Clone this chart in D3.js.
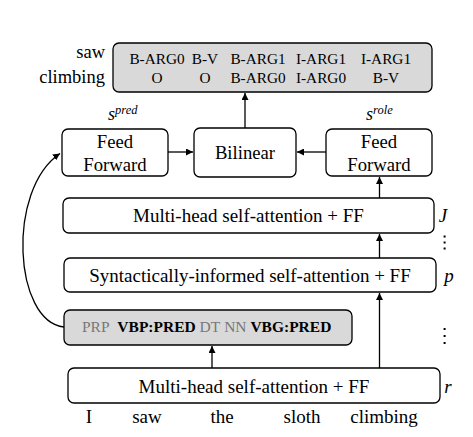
<!DOCTYPE html>
<html><head><meta charset="utf-8">
<script src="https://cdn.jsdelivr.net/npm/d3@7"></script>
<style>body{margin:0;background:#fff}svg{display:block}</style>
</head><body>
<script>
// ---- data ----
const words = ["I", "saw", "the", "sloth", "climbing"];
const predicates = ["saw", "climbing"];
const tagsSaw = ["B-ARG0", "B-V", "B-ARG1", "I-ARG1", "I-ARG1"];
const tagsClimbing = ["O", "O", "B-ARG0", "I-ARG0", "B-V"];
const posTags = ["PRP", "VBP:PRED", "DT", "NN", "VBG:PRED"];
const posIsPred = [false, true, false, false, true];
const layerNames = ["Multi-head self-attention + FF", "Syntactically-informed self-attention + FF", "Multi-head self-attention + FF"];
const layerIndex = ["J", "p", "r"];
const scoreNames = ["pred", "role"];

// ---- layout ----
const W = 473, H = 437;
const svg = d3.select("body").append("svg").attr("width", W).attr("height", H);
const serif = "'Liberation Serif','Times New Roman',serif";
svg.append("defs").append("marker").attr("id", "ah")
  .attr("viewBox", "0 0 10 10").attr("refX", 10).attr("refY", 5)
  .attr("markerWidth", 7).attr("markerHeight", 7).attr("markerUnits", "userSpaceOnUse")
  .attr("orient", "auto")
  .append("path").attr("d", "M0,0 L10,5 L0,10 z").attr("fill", "#000");

function box(x, y, w, h, fill) {
  svg.append("rect").attr("x", x).attr("y", y).attr("width", w).attr("height", h)
    .attr("rx", 6).attr("ry", 6).attr("fill", fill || "#fff")
    .attr("stroke", "#000").attr("stroke-width", 1.3);
}
function txt(s, x, y, size, opts) {
  opts = opts || {};
  return svg.append("text").attr("x", x).attr("y", y).text(s)
    .attr("font-family", serif).attr("font-size", size)
    .attr("text-anchor", opts.anchor || "middle")
    .attr("font-style", opts.italic ? "italic" : null)
    .attr("font-weight", opts.bold ? "bold" : null)
    .attr("fill", opts.fill || "#000");
}
function arrow(x1, y1, x2, y2) {
  svg.append("line").attr("x1", x1).attr("y1", y1).attr("x2", x2).attr("y2", y2)
    .attr("stroke", "#000").attr("stroke-width", 1.3).attr("marker-end", "url(#ah)");
}

// Output tag box
box(113, 43, 319, 49, "#d9d9d9");
const tagCols = [157, 205, 258, 321, 386];
const xTag = d3.scaleOrdinal().domain(d3.range(5)).range(tagCols);
const rowY = d3.scaleOrdinal().domain(predicates).range([64, 83]);
const labelY = d3.scaleOrdinal().domain(predicates).range([58, 83]);
predicates.forEach(p => txt(p, 105, labelY(p), 18.5, {anchor: "end"}));
[tagsSaw, tagsClimbing].forEach((row, r) => {
  row.forEach((t, i) => txt(t, xTag(i), rowY(predicates[r]), 15.3));
});

// Feed forward / bilinear boxes
box(62, 129, 106, 47);
box(194, 128, 102, 49);
box(326, 129, 106, 47);
[115, 379].forEach(cx => {
  txt("Feed", cx, 148, 18.7);
  txt("Forward", cx, 171, 18.7);
});
txt("Bilinear", 245, 159, 18.7);

// score labels
const scoreX = d3.scaleOrdinal().domain(scoreNames).range([108, 366]);
scoreNames.forEach(n => {
  const t = txt("", scoreX(n), 120, 18, {anchor: "start", italic: true});
  t.append("tspan").text("s");
  t.append("tspan").attr("dy", -6).attr("font-size", 12.5).text(n);
});

// layers
const layers = [
  {x: 63, y: 198, w: 371, h: 35, ty: 222},
  {x: 64, y: 258, w: 372, h: 34, ty: 282},
  {x: 68, y: 368, w: 372, h: 35, ty: 393}
];
layers.forEach((L, i) => {
  box(L.x, L.y, L.w, L.h);
  txt(layerNames[i], L.x + L.w / 2, L.ty, 19);
});
const idxX = [443, 449, 448];
layerIndex.forEach((s, i) => txt(s, idxX[i], layers[i].ty, 19, {italic: true}));

// vertical dots
[[236.5, 242.5, 248.5], [329, 336, 343]].forEach(ys => ys.forEach(y =>
  svg.append("rect").attr("x", 443.6).attr("y", y - 1).attr("width", 2).attr("height", 2).attr("fill", "#000")));

// POS box
box(64, 310, 288, 35, "#d9d9d9");
const pt = svg.append("text").attr("x", 82).attr("y", 332)
  .attr("font-family", serif).attr("font-size", 15.5);
const gaps = ["", "\u00a0\u00a0", "\u00a0", "\u00a0", "\u00a0"];
posTags.forEach((p, i) => {
  pt.append("tspan").text(gaps[i]).attr("fill", "#000");
  pt.append("tspan").text(p)
    .attr("font-weight", posIsPred[i] ? "bold" : null)
    .attr("fill", posIsPred[i] ? "#000" : "#777");
});

// words
const wordX = d3.scaleOrdinal().domain(words).range([89, 147, 222, 302, 384]);
words.forEach(w => txt(w, wordX(w), 423, 19));

// arrows
arrow(245, 128, 245, 93);
arrow(168, 152, 193, 152);
arrow(326, 152, 297, 152);
arrow(379.5, 198, 379.5, 177);
arrow(379.5, 258, 379.5, 234);
arrow(379.5, 368, 379.5, 293);
arrow(212, 368, 212, 346);
svg.append("path").attr("d", "M64,327 C14,322 6,190 60,153.5")
  .attr("fill", "none").attr("stroke", "#000").attr("stroke-width", 1.3)
  .attr("marker-end", "url(#ah)");
</script>
</body></html>
